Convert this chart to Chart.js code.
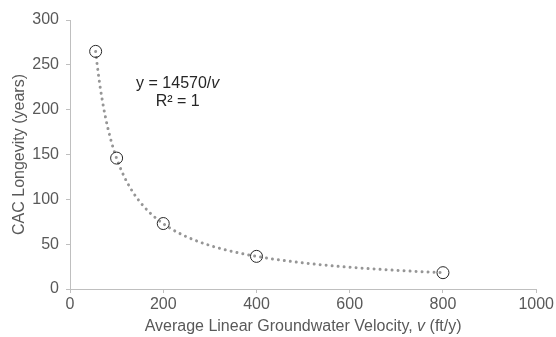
<!DOCTYPE html>
<html>
<head>
<meta charset="utf-8">
<script src="https://cdn.jsdelivr.net/npm/chart.js@4"></script>
<style>
  html, body { margin: 0; padding: 0; background: #fff; }
  #wrap { width: 556px; height: 337px; }
</style>
</head>
<body>
<div id="wrap"><canvas id="c" width="556" height="337"></canvas></div>
<script>
// Measured velocities (ft/y) and resulting CAC longevity (years)
const velocities = [55, 100, 200, 400, 800];
const longevity = [265, 146, 73, 36.4, 18.2];

// Power-law fit y = k / v, as stated in the equation label
const fitCoefficient = 14570;
const fitRSquared = 1;

// Axis tick values
const xTicks = [0, 200, 400, 600, 800, 1000];
const yTicks = [0, 50, 100, 150, 200, 250, 300];

const points = velocities.map((v, i) => ({ x: v, y: longevity[i] }));

// Trendline sampled across the range of measured velocities
const vMin = Math.min(...velocities), vMax = Math.max(...velocities);
const trend = [];
for (let v = vMin; v <= vMax; v += 2.5) trend.push({ x: v, y: fitCoefficient / v });

const textColor = '#595959';
const axisColor = '#bfbfbf';
const family = 'Liberation Sans, Arial, sans-serif';
const font = { family: family, size: 16 };

const equationLabel = {
  id: 'equationLabel',
  afterDatasetsDraw(chart) {
    const { ctx, scales } = chart;
    const cx = scales.x.getPixelForValue(231);
    const cy = scales.y.getPixelForValue(229);
    ctx.save();
    ctx.fillStyle = '#262626';
    ctx.textBaseline = 'middle';
    const f = '16px ' + family;
    const fi = 'italic 16px ' + family;
    const a = 'y = ' + fitCoefficient + '/';
    ctx.font = f;
    const wa = ctx.measureText(a).width;
    ctx.font = fi;
    const wb = ctx.measureText('v').width;
    const x0 = cx - (wa + wb) / 2;
    ctx.font = f;
    ctx.textAlign = 'left';
    ctx.fillText(a, x0, cy);
    ctx.font = fi;
    ctx.fillText('v', x0 + wa, cy);
    ctx.font = f;
    ctx.textAlign = 'center';
    ctx.fillText('R\u00b2 = ' + fitRSquared, cx, cy + 18);
    ctx.restore();
  }
};

// Axis titles (the x title has an italic "v")
const axisTitles = {
  id: 'axisTitles',
  afterDraw(chart) {
    const { ctx, chartArea } = chart;
    const f = '16px ' + family;
    const fi = 'italic 16px ' + family;
    ctx.save();
    ctx.fillStyle = textColor;
    ctx.textBaseline = 'middle';
    ctx.textAlign = 'left';
    const parts = [['Average Linear Groundwater Velocity, ', f], ['v', fi], [' (ft/y)', f]];
    let total = 0;
    parts.forEach(p => { ctx.font = p[1]; total += ctx.measureText(p[0]).width; });
    let x = (chartArea.left + chartArea.right) / 2 - total / 2;
    parts.forEach(p => { ctx.font = p[1]; ctx.fillText(p[0], x, 327); x += ctx.measureText(p[0]).width; });

    ctx.translate(20, (chartArea.top + chartArea.bottom) / 2);
    ctx.rotate(-Math.PI / 2);
    ctx.textAlign = 'center';
    ctx.font = f;
    ctx.fillText('CAC Longevity (years)', 0, 0);
    ctx.restore();
  }
};

new Chart(document.getElementById('c'), {
  type: 'scatter',
  data: {
    datasets: [
      {
        label: 'CAC longevity',
        data: points,
        showLine: false,
        pointStyle: 'circle',
        pointRadius: 6,
        pointBorderWidth: 1,
        pointBorderColor: '#262626',
        pointBackgroundColor: 'rgba(255,255,255,0)',
        order: 1
      },
      {
        label: 'Power fit',
        data: trend,
        showLine: true,
        pointRadius: 0,
        borderColor: '#969696',
        borderWidth: 3,
        borderDash: [0.01, 6],
        borderCapStyle: 'round',
        tension: 0,
        order: 2
      }
    ]
  },
  options: {
    responsive: false,
    animation: false,
    devicePixelRatio: 1,
    layout: { padding: { top: 20, right: 19, left: 0, bottom: 0 } },
    plugins: { legend: { display: false }, tooltip: { enabled: false } },
    scales: {
      x: {
        type: 'linear',
        min: 0, max: 1000,
        afterBuildTicks: s => { s.ticks = xTicks.map(v => ({ value: v })); },
        afterFit: s => { s.height = 48; },
        ticks: { color: textColor, font: font, padding: 2, maxRotation: 0, callback: v => String(v) },
        grid: { display: true, drawOnChartArea: false, drawTicks: true, tickLength: 4, color: axisColor },
        border: { color: axisColor, width: 1 },
        title: { display: false }
      },
      y: {
        type: 'linear',
        min: 0, max: 300,
        afterBuildTicks: s => { s.ticks = yTicks.map(v => ({ value: v })); },
        afterFit: s => { s.width = 70; },
        ticks: { color: textColor, font: font, padding: 7, callback: v => String(v) },
        grid: { display: true, drawOnChartArea: false, drawTicks: true, tickLength: 4, color: axisColor },
        border: { color: axisColor, width: 1 },
        title: { display: false }
      }
    }
  },
  plugins: [equationLabel, axisTitles]
});
</script>
</body>
</html>
